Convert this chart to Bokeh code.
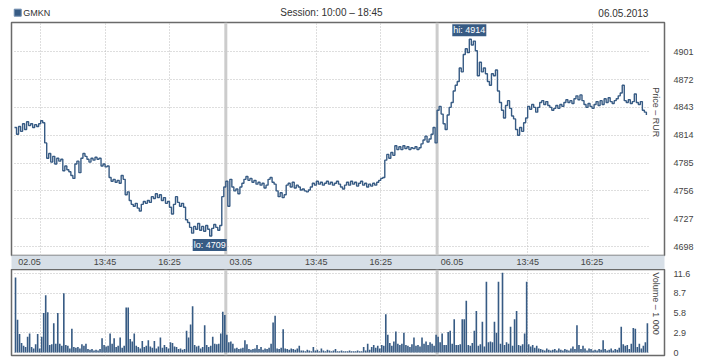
import numpy as np
from bokeh.plotting import figure
from bokeh.models import Range1d, FixedTicker, Span, Label
from bokeh.layouts import column
from bokeh.embed import file_html
from bokeh.resources import INLINE

# ---------------- data ----------------
ticker_name = "GMKN"
session_text = "Session: 10:00 – 18:45"
date_text = "06.05.2013"
day_labels = ["02.05", "03.05", "06.05"]
session_minutes = 525          # 10:00 - 18:45
bar_minutes = 5
time_tick_minutes = [225, 385]
time_tick_labels = ["13:45", "16:25"]
day_label_minute = 37
first_day_extra_grid = 65

price_d1 = [4822, 4815, 4823, 4818, 4826, 4820, 4828, 4824, 4826, 4822,
            4825, 4823, 4826, 4829, 4827, 4806, 4790, 4795, 4786, 4792,
            4784, 4790, 4787, 4789, 4777, 4782, 4778, 4776, 4772, 4769,
            4784, 4787, 4775, 4790, 4795, 4792, 4789, 4786, 4790, 4788,
            4791, 4789, 4790, 4782, 4784, 4781, 4782, 4770, 4766, 4768,
            4765, 4767, 4764, 4772, 4768, 4752, 4755, 4746, 4742, 4740,
            4743, 4738, 4735, 4742, 4745, 4743, 4746, 4744, 4750, 4748,
            4753, 4749, 4752, 4746, 4749, 4743, 4745, 4739, 4732, 4742,
            4750, 4744, 4740, 4743, 4739, 4726, 4723, 4718, 4712, 4719,
            4716, 4722, 4715, 4719, 4714, 4720, 4716, 4709, 4717, 4721,
            4718, 4715, 4720, 4750, 4760]
price_d2 = [4766, 4740, 4768, 4760, 4756, 4758, 4753, 4760, 4764, 4768,
            4771, 4767, 4769, 4765, 4767, 4763, 4765, 4762, 4764, 4759,
            4762, 4768, 4770, 4765, 4763, 4756, 4750, 4754, 4749, 4752,
            4762, 4764, 4760, 4765, 4759, 4762, 4760, 4757, 4758, 4756,
            4755, 4757, 4760, 4764, 4762, 4766, 4763, 4765, 4762, 4764,
            4766, 4763, 4765, 4762, 4764, 4766, 4763, 4760, 4758, 4762,
            4765, 4762, 4766, 4763, 4765, 4761, 4764, 4766, 4762, 4764,
            4760, 4763, 4761, 4764, 4762, 4765, 4767, 4769, 4770, 4788,
            4794, 4790, 4796, 4793, 4803, 4799, 4802, 4799, 4803, 4800,
            4802, 4799, 4801, 4800, 4802, 4799, 4801, 4805, 4809, 4813,
            4807, 4810, 4815, 4822, 4806]
price_d3 = [4840, 4844, 4836, 4826, 4820, 4835, 4843, 4848, 4860, 4866,
            4870, 4884, 4880, 4898, 4904, 4900, 4914, 4908, 4912, 4902,
            4876, 4890, 4880, 4884, 4878, 4870, 4866, 4878, 4876, 4882,
            4860, 4848, 4840, 4832, 4845, 4850, 4842, 4834, 4831, 4820,
            4814, 4822, 4818, 4827, 4832, 4844, 4841, 4846, 4843, 4838,
            4843, 4848, 4850, 4846, 4849, 4845, 4843, 4840, 4842, 4845,
            4842, 4846, 4844, 4848, 4851, 4848, 4850, 4847, 4852, 4855,
            4851, 4856, 4850, 4846, 4843, 4847, 4844, 4842, 4846, 4849,
            4845, 4850, 4846, 4852, 4848, 4853, 4849, 4847, 4850, 4852,
            4855, 4858, 4866, 4850, 4848, 4851, 4847, 4849, 4857, 4848,
            4846, 4849, 4840, 4838, 4835]

vol_d1 = [11.0, 4.8, 2.7, 1.4, 1.0, 0.8, 2.3, 2.8, 0.8, 0.6,
          1.2, 2.7, 0.6, 2.3, 5.8, 8.4, 5.9, 1.1, 1.2, 4.3,
          1.3, 5.8, 1.3, 1.0, 8.7, 1.1, 1.0, 0.6, 3.5, 0.8,
          0.7, 0.8, 0.6, 1.2, 1.0, 1.3, 0.5, 0.4, 0.5, 0.3,
          0.4, 0.3, 0.5, 2.1, 1.1, 0.9, 1.0, 2.8, 1.3, 2.1,
          0.8, 1.0, 2.2, 0.7, 1.0, 6.6, 6.6, 2.0, 1.6, 2.8,
          1.0, 0.8, 0.6, 1.7, 0.8, 1.0, 1.8, 0.9, 0.7, 1.7,
          0.6, 0.9, 2.2, 0.7, 1.1, 0.8, 0.6, 1.5, 1.4, 0.9,
          0.8, 0.5, 0.6, 0.4, 0.5, 3.2, 2.2, 4.1, 6.8, 1.1,
          0.9, 1.0, 0.6, 0.8, 4.0, 1.1, 0.8, 1.0, 2.3, 1.3,
          1.2, 1.3, 2.8, 6.0, 5.5]
vol_d2 = [2.6, 1.5, 1.6, 1.3, 0.6, 0.7, 0.5, 0.6, 0.7, 1.8,
          1.2, 0.5, 0.4, 0.5, 0.6, 1.1, 0.5, 0.8, 0.4, 0.6,
          0.5, 0.7, 1.3, 4.4, 5.4, 0.6, 0.5, 0.7, 3.4, 0.6,
          0.5, 0.4, 0.6, 0.5, 0.4, 0.6, 1.0, 0.3, 0.3, 0.2,
          0.4, 0.3, 0.2, 0.8, 0.3, 0.4, 0.2, 0.6, 0.3, 0.2,
          0.4, 0.3, 0.2, 0.3, 0.5, 0.2, 0.2, 0.3, 0.2, 0.2,
          0.2, 0.3, 0.2, 0.2, 0.2, 0.3, 0.2, 0.2, 0.8, 0.3,
          1.3, 0.4, 0.8, 1.1, 0.7, 1.0, 0.6, 1.1, 1.0, 5.6,
          2.6, 1.4, 1.0, 1.6, 3.1, 1.3, 1.1, 1.3, 2.9, 1.1,
          1.0, 0.8, 1.2, 2.2, 1.0, 1.1, 0.9, 2.2, 1.3, 1.6,
          1.1, 1.5, 1.3, 1.0, 2.6]
vol_d3 = [2.3, 1.5, 2.8, 1.1, 1.1, 3.0, 3.2, 1.3, 4.9, 1.1,
          1.1, 1.2, 4.9, 4.9, 7.6, 1.1, 1.0, 1.4, 3.2, 6.1,
          1.0, 1.2, 4.5, 0.9, 10.4, 1.5, 1.6, 1.5, 4.5, 2.9,
          10.4, 1.3, 11.7, 1.1, 1.5, 1.3, 3.8, 1.0, 4.9, 6.1,
          1.1, 1.0, 1.2, 2.8, 10.4, 1.2, 0.9, 1.1, 0.7, 1.0,
          0.6, 0.5, 0.4, 0.3, 0.6, 0.4, 0.3, 0.4, 0.5, 0.3,
          0.6, 0.4, 0.3, 0.5, 0.4, 0.3, 0.6, 0.9, 0.5, 4.0,
          1.1, 0.5, 1.0, 0.6, 0.3, 0.6, 0.5, 0.3, 0.4, 0.3,
          0.5, 0.4, 1.8, 0.5, 0.3, 0.4, 0.6, 0.3, 0.5, 0.4,
          0.7, 3.8, 1.2, 1.0, 1.1, 0.5, 1.3, 3.6, 3.5, 0.8,
          1.3, 0.6, 1.0, 1.5, 4.3]

price_ticks = [4698, 4727, 4756, 4785, 4814, 4843, 4872, 4901]
volume_ticks = [0, 2.9, 5.8, 8.7, 11.6]
volume_tick_labels = ["0", "2.9", "5.8", "8.7", "11.6"]
price_axis_title = "Price – RUR"
volume_axis_title = "Volume – 1 000"

# ---------------- derived ----------------
prices = np.array(price_d1 + price_d2 + price_d3, dtype=float)
volumes = np.array(vol_d1 + vol_d2 + vol_d3, dtype=float)
per_day = len(price_d1)
minutes = np.concatenate([d * session_minutes + np.arange(per_day) * bar_minutes
                          for d in range(len(day_labels))])
total = session_minutes * len(day_labels)

x_ticks, x_over = [], {}
grid_ticks = [first_day_extra_grid]
for d, lab in enumerate(day_labels):
    base = d * session_minutes
    x_ticks.append(base + day_label_minute)
    x_over[base + day_label_minute] = lab
    for m, t in zip(time_tick_minutes, time_tick_labels):
        x_ticks.append(base + m)
        x_over[base + m] = t
        grid_ticks.append(base + m)

BLUE = "#375b84"
GRID = "#bdbdbd"
SEP = "#cccccc"
FRAME = "#6a6a6a"
TXT = "#444444"
FONT = "Liberation Sans"

W = 710
BL, BR = 11, 46
xr = Range1d(-7.5, total + 40)

# ---------------- header ----------------
h = figure(width=W, height=21, x_range=xr, y_range=Range1d(0, 1),
           output_backend="svg", toolbar_location=None,
           min_border_left=BL, min_border_right=BR, min_border_top=0, min_border_bottom=0,
           x_axis_location=None, y_axis_location=None, outline_line_color=None)
h.grid.visible = False
hy = 0.42
h.scatter([8], [hy], marker="square", size=7, color=BLUE, line_color="#6f8cae")
h.add_layout(Label(x=22, y=hy, text=ticker_name, text_font=FONT, text_font_size="9px",
                   text_color="#333333", text_baseline="middle", text_align="left"))
h.add_layout(Label(x=total / 2, y=hy, text=session_text, text_font=FONT, text_font_size="10px",
                   text_color="#333333", text_baseline="middle", text_align="center"))
h.add_layout(Label(x=total, y=hy, text=date_text, text_font=FONT, text_font_size="10px",
                   text_color="#333333", text_baseline="middle", text_align="right"))

# ---------------- price ----------------
p = figure(width=W, height=248, x_range=xr, y_range=Range1d(4688.7, 4931.4),
           output_backend="svg", toolbar_location=None,
           min_border_left=BL, min_border_right=BR, min_border_top=1, min_border_bottom=0,
           x_axis_location="below", y_axis_location="right")
p.outline_line_color = FRAME
p.outline_line_width = 1.5

for d in range(1, len(day_labels)):
    p.add_layout(Span(location=d * session_minutes, dimension="height",
                      line_color=SEP, line_width=3, level="underlay"))

p.step(minutes, prices, mode="after", line_color=BLUE, line_width=1.4)

imin = int(np.argmin(prices))
imax = int(np.argmax(prices))
p.add_layout(Label(x=minutes[imin], y=prices[imin], text=f"lo: {int(prices[imin])}",
                   text_font=FONT, text_font_size="9px", text_color="white",
                   background_fill_color=BLUE, text_align="center", text_baseline="top",
                   y_offset=-3, padding=1))
p.add_layout(Label(x=minutes[imax], y=prices[imax], text=f"hi: {int(prices[imax])}",
                   text_font=FONT, text_font_size="9px", text_color="white",
                   background_fill_color=BLUE, text_align="center", text_baseline="bottom",
                   y_offset=3, padding=1))

p.yaxis.ticker = FixedTicker(ticks=price_ticks)
p.yaxis.axis_line_color = None
p.yaxis.major_tick_line_color = None
p.yaxis.minor_tick_line_color = None
p.yaxis.major_tick_out = 0
p.yaxis.major_label_standoff = 9
p.yaxis.major_label_text_font = FONT
p.yaxis.major_label_text_font_size = "9px"
p.yaxis.major_label_text_color = TXT

p.xaxis.ticker = FixedTicker(ticks=x_ticks)
p.xaxis.major_label_overrides = x_over
p.xaxis.axis_line_color = None
p.xaxis.major_tick_line_color = None
p.xaxis.minor_tick_line_color = None
p.xaxis.major_tick_out = 0
p.xaxis.major_label_standoff = 1
p.xaxis.major_label_text_font = FONT
p.xaxis.major_label_text_font_size = "9px"
p.xaxis.major_label_text_color = TXT
p.xaxis.background_fill_color = "#d7dfe7"

p.xgrid.ticker = FixedTicker(ticks=grid_ticks)
for g in (p.xgrid, p.ygrid):
    g.grid_line_color = GRID
    g.grid_line_dash = "1 2"
p.ygrid.cross_bounds = (0, total)

p.add_layout(Label(x=xr.end, y=4838, x_offset=-4, text=price_axis_title, angle=-np.pi / 2,
                   text_font=FONT, text_font_size="9px", text_color=TXT,
                   text_align="center", text_baseline="top"))

# ---------------- volume ----------------
v = figure(width=W, height=88, x_range=xr, y_range=Range1d(-0.44, 12.19),
           output_backend="svg", toolbar_location=None,
           min_border_left=BL, min_border_right=BR, min_border_top=0, min_border_bottom=2,
           x_axis_location=None, y_axis_location="right")
v.outline_line_color = FRAME
v.outline_line_width = 1.5
for d in range(1, len(day_labels)):
    v.add_layout(Span(location=d * session_minutes, dimension="height",
                      line_color=SEP, line_width=3, level="underlay"))
v.vbar(x=minutes + bar_minutes / 2, top=volumes, bottom=0, width=bar_minutes * 0.8,
       fill_color=BLUE, line_color=None)
v.yaxis.ticker = FixedTicker(ticks=volume_ticks)
v.yaxis.major_label_overrides = dict(zip(volume_ticks, volume_tick_labels))
v.yaxis.axis_line_color = None
v.yaxis.major_tick_line_color = None
v.yaxis.minor_tick_line_color = None
v.yaxis.major_tick_out = 0
v.yaxis.major_label_standoff = 9
v.yaxis.major_label_text_font = FONT
v.yaxis.major_label_text_font_size = "9px"
v.yaxis.major_label_text_color = TXT
v.xgrid.ticker = FixedTicker(ticks=grid_ticks)
for g in (v.xgrid, v.ygrid):
    g.grid_line_color = GRID
    g.grid_line_dash = "1 2"
v.ygrid.cross_bounds = (0, total)
v.add_layout(Label(x=xr.end, y=7.2, x_offset=-4, text=volume_axis_title, angle=-np.pi / 2,
                   text_font=FONT, text_font_size="9px", text_color=TXT,
                   text_align="center", text_baseline="top"))

layout = column(h, p, v, spacing=0)
open("out.html", "w").write(file_html(layout, INLINE))
